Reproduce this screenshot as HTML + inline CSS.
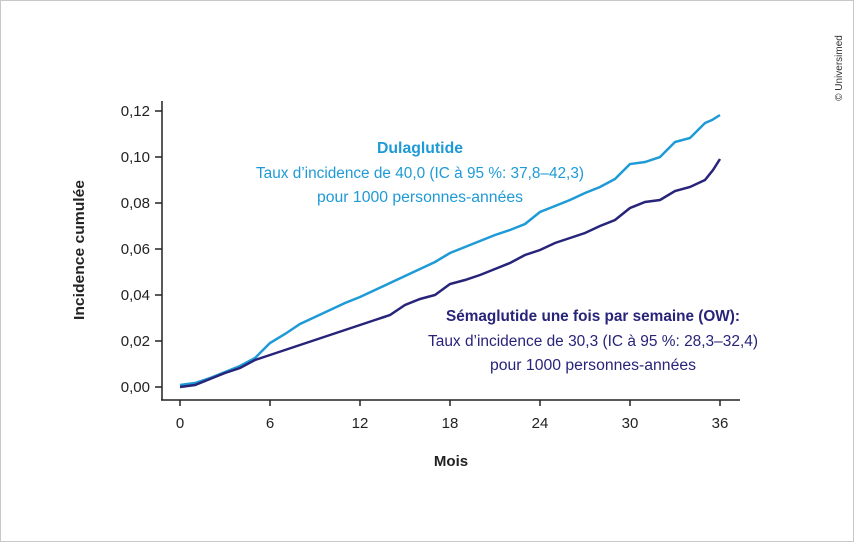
<!DOCTYPE html>
<html><head><meta charset="utf-8"><style>
body{margin:0;background:#fff}
svg{display:block;font-family:"Liberation Sans",sans-serif}
</style></head><body>
<svg width="854" height="542" viewBox="0 0 854 542">
<rect x="0.5" y="0.5" width="853" height="541" fill="#fff" stroke="#c8c8c8"/>
<text transform="translate(842,68) rotate(-90)" text-anchor="middle" font-size="10" fill="#333">© Universimed</text>
<g stroke="#222" stroke-width="1.5" fill="none">
<line x1="162" y1="101" x2="162" y2="400"/>
<line x1="161" y1="400" x2="740" y2="400"/>
<line x1="155" y1="111" x2="162" y2="111"/><line x1="155" y1="157" x2="162" y2="157"/>
<line x1="155" y1="203" x2="162" y2="203"/><line x1="155" y1="249" x2="162" y2="249"/>
<line x1="155" y1="295" x2="162" y2="295"/><line x1="155" y1="341" x2="162" y2="341"/>
<line x1="155" y1="387" x2="162" y2="387"/>
<line x1="180" y1="400" x2="180" y2="406"/><line x1="270" y1="400" x2="270" y2="406"/>
<line x1="360" y1="400" x2="360" y2="406"/><line x1="450" y1="400" x2="450" y2="406"/>
<line x1="540" y1="400" x2="540" y2="406"/><line x1="630" y1="400" x2="630" y2="406"/>
<line x1="720" y1="400" x2="720" y2="406"/>
</g>
<g font-size="15" fill="#222" text-anchor="end">
<text x="150" y="116">0,12</text><text x="150" y="162">0,10</text><text x="150" y="208">0,08</text>
<text x="150" y="254">0,06</text><text x="150" y="300">0,04</text><text x="150" y="346">0,02</text>
<text x="150" y="392">0,00</text>
</g>
<g font-size="15" fill="#222" text-anchor="middle">
<text x="180" y="428">0</text><text x="270" y="428">6</text><text x="360" y="428">12</text>
<text x="450" y="428">18</text><text x="540" y="428">24</text><text x="630" y="428">30</text>
<text x="720" y="428">36</text>
<text x="451" y="466" font-weight="bold" font-size="15">Mois</text>
</g>
<text transform="translate(84,250) rotate(-90)" text-anchor="middle" font-size="15" font-weight="bold" fill="#222" textLength="140" lengthAdjust="spacingAndGlyphs">Incidence cumulée</text>
<polyline fill="none" stroke="#1e9ad6" stroke-width="2.5" points="180,385 195,383 210,378 225,372 240,366 255,358 270,343 285,334 300,324 315,317 330,310 345,303 360,297 375,290 390,283 405,276 420,269 435,262 450,253 465,247 480,241 495,235 510,230 525,224 540,212 555,206 570,200 585,193 600,187 615,179 630,164 645,162 660,157 675,142 690,138 705,123 712,120 720,115"/>
<polyline fill="none" stroke="#27247a" stroke-width="2.5" points="180,387 195,385 210,379 225,373 240,368 255,360 270,355 285,350 300,345 315,340 330,335 345,330 360,325 375,320 390,315 405,305 420,299 435,295 450,284 465,280 480,275 495,269 510,263 525,255 540,250 555,243 570,238 585,233 600,226 615,220 630,208 645,202 660,200 675,191 690,187 705,180 713,170 720,159"/>
<g text-anchor="middle" font-size="15.5">
<text x="420" y="153" font-weight="bold" fill="#1e9ad6" textLength="86" lengthAdjust="spacingAndGlyphs">Dulaglutide</text>
<text x="420" y="178" fill="#1e9ad6" textLength="328" lengthAdjust="spacingAndGlyphs">Taux d’incidence de 40,0 (IC à 95 %: 37,8–42,3)</text>
<text x="420" y="202" fill="#1e9ad6" textLength="206" lengthAdjust="spacingAndGlyphs">pour 1000 personnes-années</text>
<text x="593" y="321" font-weight="bold" fill="#27247a" textLength="294" lengthAdjust="spacingAndGlyphs">Sémaglutide une fois par semaine (OW):</text>
<text x="593" y="346" fill="#27247a" textLength="330" lengthAdjust="spacingAndGlyphs">Taux d’incidence de 30,3 (IC à 95 %: 28,3–32,4)</text>
<text x="593" y="370" fill="#27247a" textLength="206" lengthAdjust="spacingAndGlyphs">pour 1000 personnes-années</text>
</g>
</svg>
</body></html>
